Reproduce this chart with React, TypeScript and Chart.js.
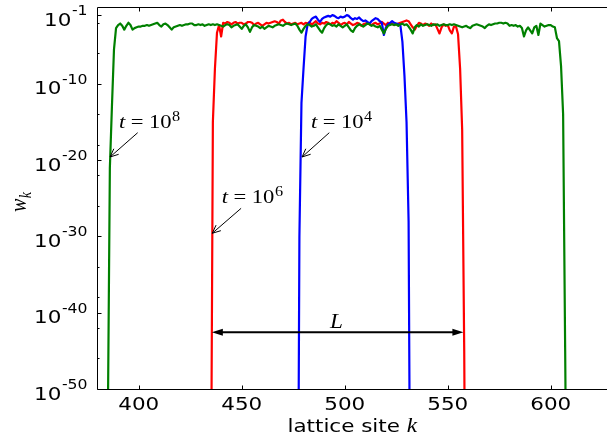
import React, { useEffect, useRef } from 'react';
import { Chart, registerables } from 'chart.js';

Chart.register(...registerables);

// ---- data (log10 of w_k), one value per lattice site ----
const greenStart = 384; // t = 10^8
const greenLog = [
  -90, -55, -21, -13, -5.5, -2.7,
  -2.3, -2.1, -2.4, -2.9, -2.4, -2.0, -2.3, -2.9, -2.7, -2.6,
  -2.5, -2.5, -2.4, -2.4, -2.3, -2.4, -2.3, -2.2, -2.1, -2.0,
  -2.3, -2.5, -2.2, -2.1, -2.3, -2.6, -2.9, -2.6, -2.5, -2.4,
  -2.3, -2.4, -2.3, -2.2, -2.2, -2.1, -2.1, -2.3, -2.3, -2.2,
  -2.3, -2.2, -2.4, -2.3, -2.2, -2.3, -2.2, -2.3, -2.2, -2.3,
  -2.4, -2.5, -2.3, -2.2, -2.3, -2.6, -2.4, -2.3, -2.2, -2.5,
  -2.8, -2.4, -2.2, -2.6, -3.2, -2.6, -2.3, -2.4, -2.5, -2.7,
  -2.5, -2.8, -2.6, -2.4, -2.5, -2.6, -2.4, -2.3, -2.2, -2.3,
  -2.4, -2.2, -2.1, -2.2, -2.3, -2.2, -2.1, -2.4, -2.9, -3.3,
  -2.8, -2.4, -2.2, -2.3, -2.5, -2.4, -2.2, -2.6, -3.0, -3.3,
  -2.7, -2.3, -2.1, -2.2, -2.4, -2.3, -2.5, -2.2, -2.4, -2.6,
  -2.4, -2.2, -2.6, -3.0, -3.2, -2.7, -2.4, -2.2, -2.3, -2.5,
  -2.3, -2.1, -2.2, -2.4, -2.3, -2.5, -2.6, -2.4, -2.9, -3.4,
  -2.8, -2.4, -2.3, -2.2, -2.3, -2.2, -2.4, -2.2, -2.1, -2.3,
  -2.2, -2.5, -2.9, -3.4, -2.6, -2.3, -2.5, -2.2, -2.4, -2.3,
  -2.2, -2.3, -2.4, -2.2, -2.3, -2.2, -2.4, -2.3, -2.2, -2.3,
  -2.3, -2.2, -2.3, -2.2, -2.3, -2.4, -2.5, -2.6, -2.5, -2.4,
  -2.6, -2.7, -2.4, -2.3, -2.2, -2.3, -2.4, -2.5, -2.7, -2.4,
  -2.2, -2.3, -2.2, -2.1, -2.1, -2.0, -2.0, -2.1, -2.0, -2.1,
  -2.4, -2.3, -2.4, -2.3, -2.5, -2.4, -2.7, -3.8, -3.0, -2.6,
  -3.0, -3.4, -2.6, -2.4, -3.6, -2.1, -2.3, -2.5, -2.4, -2.3,
  -2.3, -2.5, -2.6, -4.0, -4.4, -7.7, -14, -45, -80,
];

const redStart = 434; // t = 10^6
const redLog = [
  -120, -70, -15, -8, -3.3, -2.3, -3.8, -2.0,
  -2.1, -1.9, -2.0, -2.2, -2.0, -1.9, -2.1, -2.0,
  -2.0, -2.2, -2.1, -1.9, -1.9, -2.0, -2.3, -2.1, -2.0, -2.2,
  -2.4, -2.2, -2.0, -2.1, -2.0, -1.9, -1.8, -1.9, -2.1, -1.7,
  -1.6, -1.9, -2.1, -2.0, -2.2, -2.1, -2.0, -2.2, -2.1, -2.0,
  -2.2, -2.0, -2.1, -1.9, -2.3, -2.0, -1.8, -2.1, -2.2, -2.0,
  -2.1, -1.9, -2.0, -2.2, -2.0, -2.1, -1.8, -2.0, -2.3, -2.1,
  -2.0, -2.2, -1.9, -2.1, -2.3, -2.2, -2.0, -2.1, -2.4, -2.2,
  -2.1, -2.0, -2.2, -2.3, -2.1, -2.0, -2.2, -2.1, -1.9, -2.1,
  -2.3, -2.0, -2.2, -2.1, -2.3, -2.2, -2.1, -2.0, -1.9, -1.8,
  -1.7, -1.8, -2.2, -2.6, -2.9, -2.4, -2.0, -2.1, -2.3, -2.1,
  -2.2, -2.4, -2.1, -2.3, -2.2, -2.8, -3.4, -2.6, -2.2, -2.4,
  -2.3, -3.0, -3.4, -2.5, -2.5, -3.5, -8, -16, -45, -90,
];

const blueStart = 476; // t = 10^4
const blueLog = [
  -150, -90, -30, -12.5, -8, -3.8, -2.2,
  -1.9, -1.5, -1.3, -1.2, -1.6, -1.9, -1.5,
  -1.3, -1.2, -1.1, -1.2, -1.0, -1.1, -1.3, -1.4, -1.2, -1.3,
  -1.2, -1.0, -1.1, -1.4, -1.6, -1.4, -1.5, -1.3, -1.6, -1.8,
  -1.7, -1.9, -2.1, -1.8, -1.6, -1.4, -1.5, -1.8, -2.0, -3.6,
  -2.6, -2.2, -2.0, -1.8, -2.0, -2.1, -2.2, -2.3,
  -4.5, -9, -15, -28, -80, -150,
];

// ---- axes ----
const xMin = 380;
const xMax = 627.3;
const yMinExp = -50;
const yMaxExp = 0;
const xTicks = [400, 450, 500, 550, 600];
const yMajorExp = [-1, -10, -20, -30, -40, -50];
const yMinorExp = [-2, -6, -14, -18, -22, -26, -34, -38, -42, -46];
const xTitle = 'lattice site ';
const xTitleVar = 'k';

// ---- annotations (data coordinates: site, log10 w) ----
const annPowers = ['8', '4', '6'];
const annText = [[390.4, -15.79], [483.6, -15.79], [440.3, -25.66]];
const annTail = [[399.5, -16.41], [492.5, -16.41], [449.7, -26.32]];
const annHead = [[386.1, -19.59], [479.3, -19.59], [435.7, -29.59]];
const spanFrom = 435.5;
const spanTo = 557.6;
const spanExp = -42.57;
const spanLabel = 'L';
const spanLabelAt = [496.0, -42.0];

const SX = 1.16; // horizontal text stretch of the original figure

function sText(ctx, text, x, y, font, align) {
  ctx.save();
  ctx.font = font;
  ctx.translate(x, y);
  ctx.scale(SX, 1);
  ctx.textAlign = align || 'left';
  ctx.textBaseline = 'alphabetic';
  ctx.fillText(text, 0, 0);
  ctx.restore();
}
function sWidth(ctx, text, font) {
  ctx.save();
  ctx.font = font;
  const w = ctx.measureText(text).width * SX;
  ctx.restore();
  return w;
}

const SANS = '"DejaVu Sans"';
const SERIF = '"Liberation Serif"';

const decorPlugin = {
  id: 'decor',
  afterDatasetsDraw(chart) {
    const { ctx, chartArea: a, scales } = chart;
    const px = (v) => scales.x.getPixelForValue(v);
    const py = (e) => scales.y.getPixelForValue(Math.pow(10, e));
    ctx.save();
    ctx.strokeStyle = '#000';
    ctx.fillStyle = '#000';
    ctx.lineWidth = 1;
    const L = a.left;
    const T = a.top;
    const B = Math.floor(a.bottom) + 0.5;
    const R = a.right + 2;
    // spines
    ctx.beginPath();
    ctx.moveTo(L, T); ctx.lineTo(R, T);
    ctx.moveTo(L, T); ctx.lineTo(L, B);
    ctx.moveTo(L, B); ctx.lineTo(R, B);
    ctx.stroke();
    // x ticks (inward, bottom and top)
    ctx.beginPath();
    xTicks.forEach((v) => {
      const x = Math.round(px(v)) + 0.5;
      ctx.moveTo(x, B); ctx.lineTo(x, B - 4);
      ctx.moveTo(x, T); ctx.lineTo(x, T + 4);
    });
    // y ticks
    yMajorExp.forEach((e) => {
      const y = Math.round(py(e)) + 0.5;
      ctx.moveTo(L, y); ctx.lineTo(L + 4, y);
    });
    yMinorExp.forEach((e) => {
      const y = Math.round(py(e)) + 0.5;
      ctx.moveTo(L, y); ctx.lineTo(L + 2, y);
    });
    ctx.stroke();

    // x tick labels
    const tickFont = '18.5px ' + SANS;
    xTicks.forEach((v) => {
      sText(ctx, String(v), px(v), B + 20, tickFont, 'center');
    });
    // y tick labels 10^e
    const supFont = '13.5px ' + SANS;
    yMajorExp.forEach((e) => {
      const y = py(e) + 10.5;
      const sup = '-' + String(Math.abs(e));
      const right = L - 10;
      const wSup = sWidth(ctx, sup, supFont);
      sText(ctx, sup, right, y - 10.5, supFont, 'right');
      sText(ctx, '10', right - wSup - 0.5, y, tickFont, 'right');
    });
    // x title
    const kFont = 'italic 20px ' + SERIF;
    const w1 = sWidth(ctx, xTitle, tickFont);
    const w2 = sWidth(ctx, xTitleVar, kFont);
    const cx = (a.left + a.right) / 2 - (w1 + w2) / 2;
    sText(ctx, xTitle, cx, 431.5, tickFont, 'left');
    sText(ctx, xTitleVar, cx + w1, 431.5, kFont, 'left');

    // y title w_k (rotated)
    ctx.save();
    ctx.translate(26, 212);
    ctx.scale(SX, 1);
    ctx.rotate(-Math.PI / 2);
    ctx.textBaseline = 'alphabetic';
    ctx.textAlign = 'left';
    ctx.font = 'italic 20px ' + SERIF;
    ctx.fillText('w', 0, 0);
    const ww = ctx.measureText('w').width;
    ctx.font = 'italic 14px ' + SERIF;
    ctx.fillText('k', ww + 0.5, 4);
    ctx.restore();

    // t = 10^n annotations
    const mFont = '19.5px ' + SERIF;
    const mItal = 'italic 19.5px ' + SERIF;
    const mSup = '14px ' + SERIF;
    annPowers.forEach((p, i) => {
      const x0 = px(annText[i][0]);
      const y0 = py(annText[i][1]);
      sText(ctx, 't', x0, y0, mItal, 'left');
      let cxx = x0 + sWidth(ctx, 't', mItal) + 5.5;
      sText(ctx, '=', cxx, y0, mFont, 'left');
      cxx += sWidth(ctx, '=', mFont) + 5.5;
      sText(ctx, '10', cxx, y0, mFont, 'left');
      cxx += sWidth(ctx, '10', mFont) + 0.5;
      sText(ctx, p, cxx, y0 - 7, mSup, 'left');
      // arrow
      const tx = px(annTail[i][0]);
      const ty = py(annTail[i][1]);
      const hx = px(annHead[i][0]);
      const hy = py(annHead[i][1]);
      ctx.lineWidth = 1;
      ctx.beginPath();
      ctx.moveTo(tx, ty); ctx.lineTo(hx, hy);
      const ang = Math.atan2(hy - ty, hx - tx);
      const len = 9;
      const spr = 0.42;
      ctx.moveTo(hx - len * Math.cos(ang - spr), hy - len * Math.sin(ang - spr));
      ctx.lineTo(hx, hy);
      ctx.lineTo(hx - len * Math.cos(ang + spr), hy - len * Math.sin(ang + spr));
      ctx.stroke();
    });

    // L span arrow
    const sy = py(spanExp);
    const sx1 = px(spanFrom);
    const sx2 = px(spanTo);
    ctx.lineWidth = 2;
    ctx.beginPath();
    ctx.moveTo(sx1 + 6, sy); ctx.lineTo(sx2 - 6, sy);
    ctx.stroke();
    ctx.beginPath();
    ctx.moveTo(sx1, sy); ctx.lineTo(sx1 + 11, sy - 3.5); ctx.lineTo(sx1 + 11, sy + 3.5); ctx.closePath();
    ctx.moveTo(sx2, sy); ctx.lineTo(sx2 - 11, sy - 3.5); ctx.lineTo(sx2 - 11, sy + 3.5); ctx.closePath();
    ctx.fill();
    sText(ctx, spanLabel, px(spanLabelAt[0]), py(spanLabelAt[1]), 'italic 20px ' + SERIF, 'center');

    ctx.restore();
  },
};

function toPoints(start, logs) {
  return logs.map((v, i) => ({ x: start + i, y: Math.pow(10, v) }));
}

export default function App() {
  const ref = useRef(null);
  useEffect(() => {
    const canvas = ref.current;
    if (!canvas) return;
    const lineOpts = {
      pointRadius: 0,
      borderWidth: 2.2,
      tension: 0,
      fill: false,
      borderJoinStyle: 'round',
    };
    const chart = new Chart(canvas, {
      type: 'line',
      data: {
        datasets: [
          { label: 't=1e8', data: toPoints(greenStart, greenLog), borderColor: '#008000', ...lineOpts },
          { label: 't=1e4', data: toPoints(blueStart, blueLog), borderColor: '#0000ff', ...lineOpts },
          { label: 't=1e6', data: toPoints(redStart, redLog), borderColor: '#ff0000', ...lineOpts },
        ],
      },
      options: {
        animation: false,
        responsive: false,
        devicePixelRatio: 1,
        layout: { padding: { left: 97.5, top: 7.5, right: 0, bottom: 50 } },
        plugins: { legend: { display: false }, tooltip: { enabled: false } },
        scales: {
          x: { type: 'linear', min: xMin, max: xMax, display: false },
          y: { type: 'logarithmic', min: Math.pow(10, yMinExp), max: Math.pow(10, yMaxExp), display: false },
        },
      },
      plugins: [decorPlugin],
    });
    return () => chart.destroy();
  }, []);
  return (
    <div style={{ position: 'fixed', left: 0, top: 0, width: 607, height: 439, background: '#fff' }}>
      <canvas ref={ref} width={607} height={439} />
    </div>
  );
}
